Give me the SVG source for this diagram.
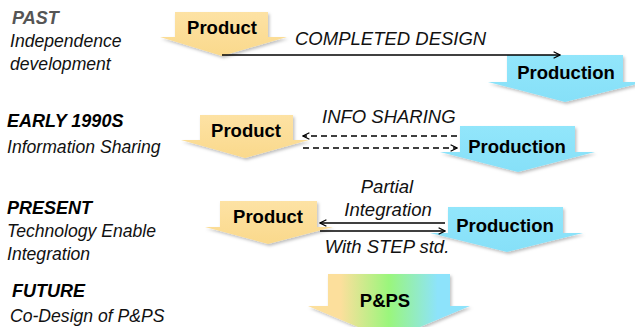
<svg xmlns="http://www.w3.org/2000/svg" width="635" height="327" viewBox="0 0 635 327">
<style>
.lbl{font-family:"Liberation Sans",Arial,sans-serif;font-size:17.6px;font-style:italic;fill:#111}
.hd{font-family:"Liberation Sans",Arial,sans-serif;font-size:18px;font-style:italic;font-weight:bold;fill:#000}
.nt{font-family:"Liberation Sans",Arial,sans-serif;font-size:18.5px;font-weight:bold;fill:#000;text-anchor:middle}
.cl{font-family:"Liberation Sans",Arial,sans-serif;font-size:18.5px;font-style:italic;fill:#111}
.prod{fill:url(#gProd)}
.pdn{fill:url(#gPdn)}
.ln{stroke:#000;stroke-width:1.6;fill:none}
.dash{stroke-dasharray:6 4}
</style>
<defs>
<linearGradient id="gProd" x1="0" y1="0" x2="0" y2="1">
<stop offset="0" stop-color="#FDE2A4"/>
<stop offset="1" stop-color="#FAD98C"/>
</linearGradient>
<linearGradient id="gPdn" x1="0" y1="0" x2="0" y2="1">
<stop offset="0" stop-color="#92E6FB"/>
<stop offset="1" stop-color="#86E0F8"/>
</linearGradient>
<linearGradient id="gFut" x1="0" y1="0" x2="1" y2="0">
<stop offset="0" stop-color="#FCDF9C"/>
<stop offset="0.2" stop-color="#FCDF9C"/>
<stop offset="0.5" stop-color="#9AF67C"/>
<stop offset="0.8" stop-color="#8DE3FB"/>
<stop offset="1" stop-color="#8DE3FB"/>
</linearGradient>
<filter id="sh" x="-10%" y="-10%" width="130%" height="140%">
<feDropShadow dx="1.5" dy="2" stdDeviation="1.5" flood-color="#000" flood-opacity="0.25"/>
</filter>
<marker id="ah" viewBox="0 0 10 10" refX="9" refY="5" markerWidth="8" markerHeight="8" markerUnits="userSpaceOnUse" orient="auto-start-reverse">
<path d="M1,1 L9,5 L1,9" fill="none" stroke="#000" stroke-width="1.6"/>
</marker>
</defs>

<g id="labels">
<text class="hd" x="12" y="24" style="fill:#555">PAST</text>
<text class="lbl" x="10" y="47">Independence</text>
<text class="lbl" x="10" y="70">development</text>
<text class="hd" x="7" y="127">EARLY 1990S</text>
<text class="lbl" x="7" y="153">Information Sharing</text>
<text class="hd" x="7" y="214">PRESENT</text>
<text class="lbl" x="7" y="237">Technology Enable</text>
<text class="lbl" x="7" y="260">Integration</text>
<text class="hd" x="12" y="297">FUTURE</text>
<text class="lbl" x="10" y="322">Co-Design of P&amp;PS</text>
</g>

<g id="past-product">
<path class="prod" filter="url(#sh)" d="M175,12 H268 V37 H287 L222,56 L160,37 H175 Z"/>
<text class="nt" x="222" y="34">Product</text>
</g>
<g id="past-production">
<path class="pdn" filter="url(#sh)" d="M507,55 H623 V82 H645 L565,102 L488,82 H507 Z"/>
<text class="nt" x="566" y="79">Production</text>
</g>

<g id="early-product">
<path class="prod" filter="url(#sh)" d="M200,115 H293 V140 H309 L245,158 L181,140 H200 Z"/>
<text class="nt" x="246" y="137">Product</text>
</g>
<g id="early-production">
<path class="pdn" filter="url(#sh)" d="M460,126 H575 V152 H595 L518,172 L440,152 H460 Z"/>
<text class="nt" x="517" y="153">Production</text>
</g>

<g id="present-product">
<path class="prod" filter="url(#sh)" d="M220,201 H317 V227 H333 L268,244 L205,227 H220 Z"/>
<text class="nt" x="268" y="223">Product</text>
</g>
<g id="present-production">
<path class="pdn" filter="url(#sh)" d="M448,207 H563 V233 H583 L507,252 L430,233 H448 Z"/>
<text class="nt" x="505" y="232">Production</text>
</g>

<g id="future-pps">
<path fill="url(#gFut)" filter="url(#sh)" d="M328,274 H450 V306 H470 L389,340 L308,306 H328 Z"/>
<text class="nt" x="385" y="307">P&amp;PS</text>
</g>

<g id="connectors">
<line class="ln" x1="222" y1="55" x2="560" y2="55" marker-end="url(#ah)"/>
<text class="cl" x="295" y="45">COMPLETED DESIGN</text>
<line class="ln dash" x1="457" y1="136" x2="303" y2="136" marker-end="url(#ah)"/>
<line class="ln dash" x1="303" y1="148" x2="457" y2="148" marker-end="url(#ah)"/>
<text class="cl" x="322" y="123">INFO SHARING</text>
<line class="ln" x1="445" y1="223" x2="320" y2="223" marker-end="url(#ah)"/>
<line class="ln" x1="320" y1="231" x2="445" y2="231" marker-end="url(#ah)"/>
<text class="cl" x="387" y="193" text-anchor="middle">Partial</text>
<text class="cl" x="388" y="216" text-anchor="middle">Integration</text>
<text class="cl" x="387" y="253" text-anchor="middle">With STEP std.</text>
</g>
</svg>
